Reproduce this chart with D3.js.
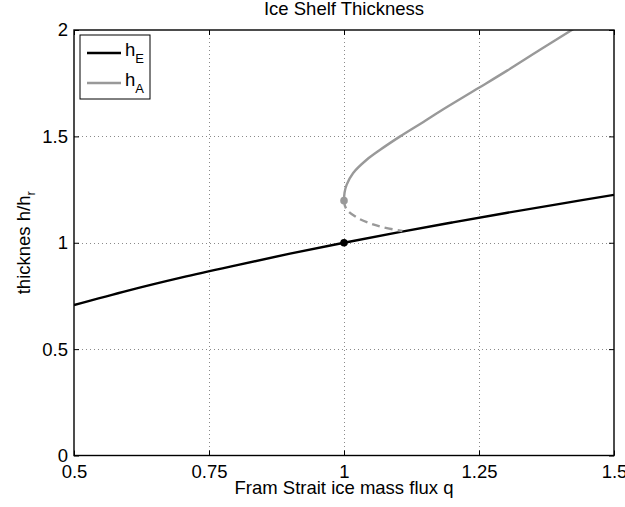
<!DOCTYPE html>
<html>
<head>
<meta charset="utf-8">
<script src="https://cdn.jsdelivr.net/npm/d3@7"></script>
<style>
  html, body { margin: 0; padding: 0; background: #fff; }
  svg { display: block; }
  text { font-family: "Liberation Sans", Arial, Helvetica, sans-serif; fill: #000; }
</style>
</head>
<body>
<svg id="chart" width="625" height="507"></svg>
<script>
// ---- data ----
const xTicks = [0.5, 0.75, 1, 1.25, 1.5];
const xTickLabels = ["0.5", "0.75", "1", "1.25", "1.5"];
const yTicks = [0, 0.5, 1, 1.5, 2];
const yTickLabels = ["0", "0.5", "1", "1.5", "2"];

// h_E : equilibrium thickness (black)
const qE = [0.5, 0.6, 0.7, 0.8, 0.9, 1.0, 1.1, 1.2, 1.3, 1.4, 1.5];
const hE = [0.707, 0.775, 0.837, 0.894, 0.949, 1.0, 1.049, 1.095, 1.140, 1.183, 1.225];

// h_A upper (solid grey) branch
const qAu = [1.000, 1.001, 1.005, 1.017, 1.042, 1.067, 1.104, 1.147, 1.178, 1.249, 1.302, 1.363, 1.425];
const hAu = [1.198, 1.235, 1.273, 1.328, 1.390, 1.437, 1.500, 1.568, 1.618, 1.727, 1.809, 1.907, 2.005];

// h_A lower (dashed grey) branch
const qAl = [1.000, 1.004, 1.023, 1.048, 1.074, 1.108];
const hAl = [1.198, 1.160, 1.120, 1.091, 1.072, 1.055];

// marked points
const ptE = {q: 1.0, h: 1.0};
const ptA = {q: 1.0, h: 1.198};

const legendLabels = [{main: "h", sub: "E", color: "#000"}, {main: "h", sub: "A", color: "#999"}];

// ---- layout ----
const L = 74, T = 30, R = 614, B = 455.5;
const FS = 18.5;
const svg = d3.select("#chart");

const x = d3.scaleLinear().domain([0.5, 1.5]).range([L, R]);
const y = d3.scaleLinear().domain([0, 2]).range([B, T]);

// clip
svg.append("defs").append("clipPath").attr("id", "clip")
  .append("rect").attr("x", L).attr("y", T).attr("width", R - L).attr("height", B - T);

// grid
const grid = svg.append("g").attr("stroke", "#8a8a8a").attr("stroke-width", 1)
  .attr("stroke-dasharray", "1,3").attr("fill", "none");
xTicks.slice(1, -1).forEach(v => {
  grid.append("line").attr("x1", Math.round(x(v)) + 0.5).attr("x2", Math.round(x(v)) + 0.5)
    .attr("y1", T).attr("y2", B);
});
yTicks.slice(1, -1).forEach(v => {
  grid.append("line").attr("y1", Math.round(y(v)) + 0.5).attr("y2", Math.round(y(v)) + 0.5)
    .attr("x1", L).attr("x2", R);
});

// axes using d3 axis generators (ticks inward)
const tickLen = 5;
const axB = svg.append("g").attr("transform", `translate(0,${B})`)
  .call(d3.axisBottom(x).tickValues(xTicks).tickSize(-tickLen).tickPadding(tickLen + 4)
    .tickFormat((d, i) => xTickLabels[i]));
const axL = svg.append("g").attr("transform", `translate(${L},0)`)
  .call(d3.axisLeft(y).tickValues(yTicks).tickSize(-tickLen).tickPadding(6)
    .tickFormat((d, i) => yTickLabels[i]));
const axT = svg.append("g").attr("transform", `translate(0,${T})`)
  .call(d3.axisTop(x).tickValues(xTicks).tickSize(-tickLen).tickFormat(""));
const axR = svg.append("g").attr("transform", `translate(${R},0)`)
  .call(d3.axisRight(y).tickValues(yTicks).tickSize(-tickLen).tickFormat(""));
[axB, axL, axT, axR].forEach(a => {
  a.select(".domain").remove();
  a.selectAll(".tick line").attr("stroke", "#000").attr("stroke-width", 1);
  a.selectAll("text").attr("font-size", FS).attr("font-family", "Liberation Sans, Arial, sans-serif").attr("fill", "#000");
});
axB.selectAll("text").attr("dy", "0.71em");

// data lines
const plot = svg.append("g").attr("clip-path", "url(#clip)");
const lineGen = d3.line().x(d => x(d[0])).y(d => y(d[1]));
const smooth = d3.line().x(d => x(d[0])).y(d => y(d[1])).curve(d3.curveCatmullRom.alpha(0.5));

plot.append("path").datum(qE.map((q, i) => [q, hE[i]]))
  .attr("d", smooth).attr("fill", "none").attr("stroke", "#000").attr("stroke-width", 2.4);
plot.append("path").datum(qAu.map((q, i) => [q, hAu[i]]))
  .attr("d", smooth).attr("fill", "none").attr("stroke", "#999").attr("stroke-width", 2.4);
plot.append("path").datum(qAl.map((q, i) => [q, hAl[i]]))
  .attr("d", smooth).attr("fill", "none").attr("stroke", "#999").attr("stroke-width", 2.4)
  .attr("stroke-dasharray", "8,5");

svg.append("circle").attr("cx", x(ptA.q)).attr("cy", y(ptA.h)).attr("r", 3.8).attr("fill", "#999");
svg.append("circle").attr("cx", x(ptE.q)).attr("cy", y(ptE.h)).attr("r", 3.8).attr("fill", "#000");

// box
svg.append("rect").attr("x", L).attr("y", T).attr("width", R - L).attr("height", B - T)
  .attr("fill", "none").attr("stroke", "#000").attr("stroke-width", 1.4);

// title & labels
svg.append("text").attr("x", (L + R) / 2).attr("y", 15).attr("text-anchor", "middle")
  .attr("font-size", FS).text("Ice Shelf Thickness");
svg.append("text").attr("x", (L + R) / 2).attr("y", 494).attr("text-anchor", "middle")
  .attr("font-size", FS).text("Fram Strait ice mass flux q");
const yl = svg.append("text").attr("transform", `translate(30,${(T + B) / 2}) rotate(-90)`)
  .attr("text-anchor", "middle").attr("font-size", FS);
yl.append("tspan").text("thicknes h/h");
yl.append("tspan").attr("font-size", 13).attr("dy", 5).text("r");

// legend
const lg = svg.append("g");
const lgX = 80, lgY = 35, lgW = 70, lgH = 64;
lg.append("rect").attr("x", lgX).attr("y", lgY).attr("width", lgW).attr("height", lgH)
  .attr("fill", "#fff").attr("stroke", "#000").attr("stroke-width", 1);
legendLabels.forEach((d, i) => {
  const cy = lgY + 18 + i * 30;
  lg.append("line").attr("x1", lgX + 7).attr("x2", lgX + 41).attr("y1", cy).attr("y2", cy)
    .attr("stroke", d.color).attr("stroke-width", 2.4);
  const t = lg.append("text").attr("x", lgX + 45).attr("y", cy + 3).attr("font-size", FS);
  t.append("tspan").text(d.main);
  t.append("tspan").attr("font-size", 13).attr("dy", 7).text(d.sub);
});
</script>
</body>
</html>
